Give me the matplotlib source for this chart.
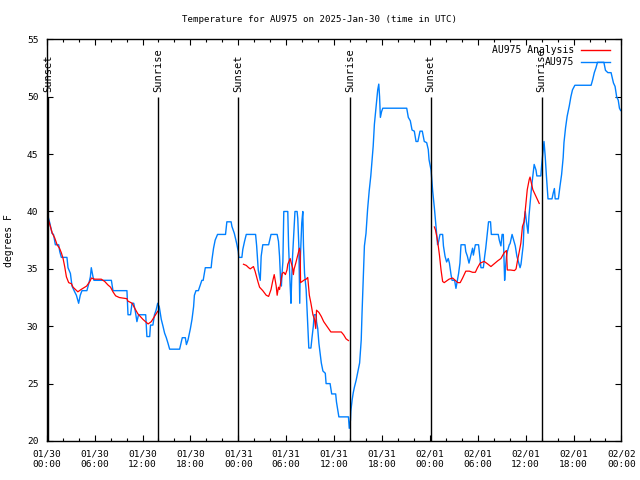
import numpy as np
import matplotlib
matplotlib.use('Agg')
import matplotlib.pyplot as plt
import matplotlib.dates as mdates

# hours since 2025-01-30 00:00 UTC
obs_hours = [0.0, 0.38, 0.67, 0.85, 1.08, 1.5, 1.63, 1.83, 2.54, 2.67, 2.96, 3.17, 3.5, 3.71, 4.0, 4.2, 4.42, 5.04,
             5.3, 5.46, 5.59, 5.8, 5.92, 8.1, 8.3, 10.05, 10.18, 10.5, 10.68, 10.9, 11.1, 11.3, 11.5, 12.4, 12.55,
             12.9, 13.0, 13.3, 13.5, 13.7, 13.9, 14.1, 14.35, 14.56, 14.77, 14.98, 15.2, 15.4, 16.65, 16.98, 17.36,
             17.5, 17.7, 18.0, 18.2, 18.4, 18.5, 18.7, 19.0, 19.24, 19.44, 19.6, 19.86, 20.6, 20.7, 20.9, 21.1, 21.4,
             22.4, 22.57, 23.1, 23.2, 23.5, 23.8, 24.0, 24.07, 24.45, 24.57, 24.78, 25.0, 26.16, 26.3, 26.5, 26.75,
             26.87, 27.0, 27.07, 27.8, 28.0, 28.1, 28.87, 29.04, 29.16, 29.3, 29.4, 29.5, 29.58, 29.7, 30.2, 30.3,
             30.5, 30.6, 30.68, 30.8, 30.95, 31.1, 31.37, 31.45, 31.58, 31.7, 31.78, 31.95, 32.08, 32.16, 32.3, 32.5,
             32.6, 32.78, 32.83, 33.1, 33.25, 33.4, 33.5, 33.75, 33.8, 33.95, 34.1, 34.25, 34.4, 34.6, 34.9, 35.0,
             35.5, 35.7, 36.2, 36.3, 36.46, 36.6, 37.8, 37.9, 38.05, 38.1, 38.26, 38.4, 38.55, 38.76, 38.96, 39.2,
             39.4, 39.5, 39.7, 39.8, 40.0, 40.2, 40.4, 40.6, 40.76, 40.9, 41.05, 41.26, 41.46, 41.6, 41.7, 41.8,
             41.95, 42.1, 45.1, 45.3, 45.55, 45.77, 46.05, 46.27, 46.5, 46.76, 47.05, 47.3, 47.6, 47.8, 47.9, 48.15,
             48.35, 48.56, 48.77, 48.97, 49.1, 49.27, 49.6, 49.7, 49.9, 50.1, 50.3, 50.45, 50.65, 50.78, 51.1, 51.27,
             51.4, 51.6, 51.77, 51.9, 52.4, 52.5, 52.7, 52.9, 53.15, 53.35, 53.45, 53.7, 54.1, 54.3, 54.4, 54.7,
             54.86, 55.0, 55.2, 55.35, 55.6, 55.7, 56.57, 56.7, 56.9, 57.05, 57.2, 57.36, 57.45, 57.6, 57.7, 57.95,
             58.05, 58.3, 58.5, 58.7, 58.9, 59.1, 59.3, 59.42, 59.5, 59.7, 59.8, 59.95, 60.1, 60.3, 60.42, 60.6,
             60.75, 60.9, 61.07, 61.3, 61.4, 61.9, 62.0, 62.2, 62.3, 62.45, 62.6, 62.8, 63.3, 63.45, 63.6, 63.7,
             64.1, 64.3, 64.5, 64.7, 64.8, 65.0, 65.2, 65.46, 65.67, 65.87, 66.17, 68.2, 68.4, 68.6, 68.8, 69.0,
             69.8, 70.0, 70.3, 70.7, 70.8, 71.0, 71.2, 71.4, 71.6, 71.75, 71.9]
obs_temp = [40.0, 39.0, 38.1, 38.0, 37.1, 37.1, 36.5, 36.0, 36.0, 35.1, 34.6, 33.5, 33.0, 32.7, 32.0, 32.7, 33.1, 33.1,
            33.8, 34.3, 35.1, 34.3, 34.0, 34.0, 33.1, 33.1, 31.0, 31.0, 32.0, 32.0, 31.3, 30.4, 31.0, 31.0, 29.1,
            29.1, 30.1, 30.1, 31.0, 31.4, 32.0, 31.7, 30.6, 30.0, 29.4, 29.0, 28.5, 28.0, 28.0, 29.0, 29.0,
            28.4, 28.8, 29.8, 30.6, 31.7, 32.7, 33.1, 33.1, 33.6, 34.0, 34.0, 35.1, 35.1, 35.8, 36.8, 37.5, 38.0,
            38.0, 39.1, 39.1, 38.7, 38.1, 37.2, 36.5, 36.0, 36.0, 36.7, 37.4, 38.0, 38.0, 37.0, 34.9, 34.0,
            36.1, 36.8, 37.1, 37.1, 37.7, 38.0, 38.0, 37.4, 36.1, 34.0, 33.5, 34.8, 35.6, 40.0, 40.0, 37.0,
            33.5, 32.0, 34.0, 36.1, 38.1, 40.0, 40.0, 39.4, 37.0, 32.0, 36.1, 39.0, 40.0, 37.0, 34.6, 33.2,
            31.7, 29.1, 28.1, 28.1, 29.1, 30.0, 31.0, 31.0, 30.4, 29.8, 28.5, 27.65, 26.8, 26.1, 25.9, 25.0,
            25.0, 24.1, 24.1, 23.4, 22.7, 22.1, 22.1, 21.1, 21.8, 22.6, 23.6, 24.2, 24.7, 25.3, 26.0, 26.8,
            28.8, 31.1, 34.9, 37.0, 38.1, 40.2, 41.8, 43.1, 44.5, 45.7, 47.6, 49.2, 50.6, 51.1, 50.0, 48.2,
            48.7, 49.0, 49.0, 48.2, 47.9, 47.1, 47.0, 46.1, 46.1, 47.0, 47.0, 46.1, 46.0, 45.4, 44.5, 43.6,
            41.8, 40.3, 38.7, 37.1, 37.4, 38.0, 38.0, 37.0, 36.1, 35.6, 35.9, 35.5, 34.5, 34.0, 34.0, 33.3,
            33.8, 34.6, 35.5, 37.1, 37.1, 36.5, 36.1, 35.5, 36.2, 36.8, 36.2, 37.1, 37.1, 35.8, 35.1, 35.1,
            36.1, 36.8, 38.1, 39.1, 39.1, 38.0, 38.0, 37.5, 37.0, 38.0, 38.0, 34.0, 34.9, 36.1, 36.5, 37.1,
            37.2, 38.0, 37.5, 37.0, 36.1, 35.6, 35.1, 35.4, 35.9, 37.1, 39.0, 40.0, 39.1, 38.1, 39.6, 41.0,
            42.2, 43.1, 44.1, 43.6, 43.1, 43.1, 44.0, 45.4, 46.1, 44.8, 43.1, 41.1, 41.1, 41.6, 42.0, 41.1,
            41.1, 42.2, 43.2, 44.7, 46.0, 47.3, 48.3, 49.2, 50.0, 50.6, 51.0, 51.0, 51.5, 52.1, 52.5, 53.0,
            53.0, 52.3, 52.1, 52.1, 51.8, 51.2, 50.9, 50.0, 49.7, 49.0, 48.8]

# analysis, three pieces (nan = gap)
ana_hours = [0.0, 0.7, 1.0, 1.3, 1.6, 1.83, 2.05, 2.25, 2.47, 2.75, 3.1, 3.3, 3.9, 4.3, 4.75, 5.0, 5.4, 5.6, 6.0,
             6.84, 7.26, 7.67, 8.0, 8.3, 8.63, 9.1, 10.05, 10.15, 10.7, 11.0, 11.4, 12.05, 12.7, 13.1, 13.5, 13.9,
             np.nan,
             24.65, 25.0, 25.3, 25.5, 25.9, 26.1, 26.45, 26.66, 27.07, 27.5, 27.8, 28.1, 28.3, 28.5, 28.75, 28.87,
             29.04, 29.16, 29.4, 29.5, 29.7, 29.9, 30.1, 30.2, 30.5, 30.6, 30.8, 30.9, 31.0, 31.2, 31.45, 31.67,
             31.75, 31.8, 32.0, 32.3, 32.5, 32.7, 32.9, 33.1, 33.35, 33.55, 33.7, 33.8, 34.1, 34.4, 34.7, 35.0,
             35.3, 35.6, 36.9, 37.2, 37.5, 37.8,
             np.nan,
             48.56, 48.7, 48.9, 49.05, 49.2, 49.4, 49.6, 49.8, 50.0, 50.4, 50.85, 51.1, 51.5, 51.8, 52.1, 52.5,
             52.95, 53.35, 53.7, 53.97, 54.3, 54.8, 55.2, 55.65, 56.07, 56.5, 56.9, 57.3, 57.6, 57.7, 58.1, 58.6,
             58.8, 59.0, 59.2, 59.4, 59.6, 59.8, 60.0, 60.2, 60.45, 60.55, 60.9, 61.3, 61.7]
ana_temp = [39.8, 38.1, 37.7, 37.1, 36.8, 36.4, 35.9, 35.2, 34.3, 33.8, 33.7, 33.4, 33.0, 33.2, 33.4, 33.5, 33.9, 34.2,
            34.1, 34.1, 33.9, 33.6, 33.4, 33.0, 32.65, 32.5, 32.4, 32.2, 32.0, 31.6, 31.1, 30.6, 30.2, 30.4, 30.85,
            31.3,
            np.nan,
            35.4, 35.3, 35.1, 35.0, 35.2, 34.8, 33.9, 33.4, 33.1, 32.7, 32.6, 33.2, 33.9, 34.5, 33.5, 32.7,
            33.4, 33.2, 34.2, 34.6, 34.7, 34.5, 34.9, 35.4, 35.9, 35.6, 35.1, 34.5, 35.0, 35.5, 36.2, 36.8,
            36.5, 33.8, 33.9, 34.05, 34.1, 34.25, 32.7, 32.0, 31.0, 30.6, 29.8, 31.4, 31.2, 30.85, 30.4, 30.1,
            29.8, 29.5, 29.5, 29.25, 28.9, 28.75,
            np.nan,
            38.65, 38.4, 37.7, 37.0, 36.2, 34.9, 33.9, 33.8, 33.9, 34.1, 34.2, 34.05, 33.8, 33.8, 34.2, 34.8,
            34.8, 34.7, 34.7, 35.1, 35.5, 35.65, 35.45, 35.2, 35.45, 35.7, 35.9, 36.4, 36.6, 34.9, 34.9, 34.85,
            35.0, 35.8, 36.5, 37.25, 38.7, 39.1, 40.45, 41.9, 42.8, 43.0, 41.9, 41.3, 40.7]

sun_hours = [0.15, 14.0, 24.0, 38.05, 48.1, 62.0]
sun_labels = ['Sunset', 'Sunrise', 'Sunset', 'Sunrise', 'Sunset', 'Sunrise']

start = np.datetime64('2025-01-30T00:00')


def to_time(h):
    h = np.asarray(h, dtype=float)
    mins = np.where(np.isnan(h), 0, np.round(h * 60)).astype('timedelta64[m]')
    return start + mins


plt.rcParams['font.family'] = 'DejaVu Sans Mono'
plt.rcParams['font.size'] = 6.5

fig = plt.figure(figsize=(6.4, 4.8), dpi=100)
ax = fig.add_axes([0.073, 0.0813, 0.898, 0.8367])

ax.plot(to_time(obs_hours), obs_temp, color='#0080ff', lw=1.0)
at = np.array(ana_temp, dtype=float)
ax.plot(to_time(ana_hours), np.where(np.isnan(np.array(ana_hours, dtype=float)), np.nan, at),
        color='#ff0000', lw=0.9)

ax.vlines(to_time(sun_hours), 20, 50, colors='k', lw=1.0)
for h, lab in zip(to_time(sun_hours), sun_labels):
    ax.text(h, 50.4, lab, rotation=90, ha='center', va='bottom', fontsize=7.5)

ax.set_xlim(start, start + np.timedelta64(72, 'h'))
ax.set_ylim(20, 55)
ax.set_yticks(range(20, 56, 5))
ax.xaxis.set_major_locator(mdates.HourLocator(byhour=range(0, 24, 6)))
ax.xaxis.set_minor_locator(mdates.HourLocator(byhour=range(0, 24, 2)))
ax.xaxis.set_major_formatter(mdates.DateFormatter('%m/%d\n%H:%M'))
ax.tick_params(which='both', direction='in', top=True, right=True, width=0.8)
ax.tick_params(which='major', length=4, pad=6, labelsize=6.8)
ax.tick_params(which='minor', length=2.5)
for s in ax.spines.values():
    s.set_linewidth(1.0)

ax.set_ylabel('degrees F', labelpad=9, fontsize=7)
# gnuplot centres the title on the whole canvas
fig.text(0.5, 1 - 19 / 480, 'Temperature for AU975 on 2025-Jan-30 (time in UTC)',
         ha='center', va='center', fontsize=6.6)

# legend, gnuplot style (text right aligned, sample on the right)
ax.text(0.918, 0.973, 'AU975 Analysis', transform=ax.transAxes, ha='right', va='center', fontsize=7)
ax.plot([0.930, 0.980], [0.973, 0.973], transform=ax.transAxes, color='#ff0000', lw=1.0)
ax.text(0.918, 0.943, 'AU975', transform=ax.transAxes, ha='right', va='center', fontsize=7)
ax.plot([0.930, 0.980], [0.943, 0.943], transform=ax.transAxes, color='#0080ff', lw=1.0)

fig.savefig('out.png', dpi=100)
